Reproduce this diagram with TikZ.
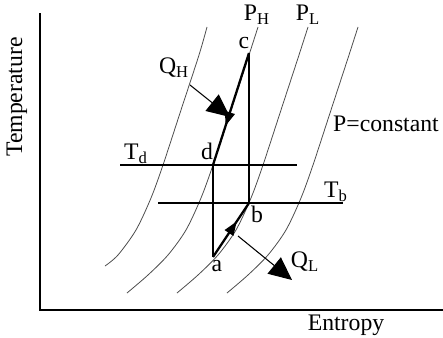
\documentclass[tikz,border=0pt]{standalone}
\usepackage{fontspec}
\setmainfont{Liberation Serif}
\usetikzlibrary{arrows.meta, positioning, decorations.markings}

\begin{document}
\begin{tikzpicture}[
        x=0.02cm, y=-0.02cm,
        font=\fontsize{13.5}{16}\selectfont,
        axis/.style={line width=0.8pt},
        isobar/.style={line width=0.45pt, black!70},
        process/.style={line width=1.3pt},
        vline/.style={line width=0.8pt},
        tline/.style={line width=0.9pt},
        midarrow/.style={postaction={decorate}, decoration={markings, mark=at position #1 with {\arrow{Triangle[length=2.8mm, width=2mm]}}}},
        heat/.style={line width=0.6pt, -{Triangle[length=4.6mm, width=4.2mm]}},
        label/.style={inner sep=1pt}
    ]
    \useasboundingbox (0,0) rectangle (443,338);

    % axes
    \coordinate (ytop) at (40,13);
    \coordinate (xend) at (443,310);
    \draw[axis] (ytop) |- (xend);
    \node[rotate=90] (ylab) at (17,97) {Temperature};
    \node (xlab) at (346,325) {Entropy};

    % lines of constant pressure
    \draw[isobar, shift={(-50,0)}] plot[smooth] coordinates {(257,27) (249,55) (231,110) (213,165) (201,198) (186,230) (168,255) (155,266)};
    \foreach \s in {0,50,100}
        \draw[isobar, shift={(\s,0)}] plot[smooth] coordinates {(258,27) (249,55) (231,110) (213,165) (201,198) (186,230) (168,255) (148,275) (127,293)};

    % cycle
    \coordinate (c) at (249,53);
    \coordinate (d) at (213,165);
    \coordinate (a) at (213,257);
    \coordinate (b) at (249,203);
    \draw[process, midarrow=0.65] (c) -- (d);
    \draw[vline] (d) -- (a);
    \draw[process, midarrow=0.66] (a) -- (b);
    \draw[vline] (b) -- (c);

    % temperature levels
    \coordinate (td1) at (120,165);
    \coordinate (td2) at (297,165);
    \coordinate (tb1) at (158,203);
    \coordinate (tb2) at (343,203);
    \draw[tline] (td1) -- (td2);
    \draw[tline] (tb1) -- (tb2);

    % heat flows
    \coordinate (qhs) at (190,85);
    \coordinate (qht) at (230,117);
    \coordinate (qls) at (238,236);
    \coordinate (qlt) at (292,280);
    \draw[heat] (qhs) -- (qht);
    \draw[heat] (qls) -- (qlt);

    % labels
    \node[label] (lc) at (244,43) {c};
    \node[label] (ld) at (207,151) {d};
    \node[label] (lb) at (257,214) {b};
    \node[label] (la) at (217,266) {a};
    \node[label] (ph) at (257,15) {P\textsubscript{H}};
    \node[label] (pl) at (308,15) {P\textsubscript{L}};
    \node[label] (pc) at (386,124) {P=constant};
    \node[label] (qh) at (174,68) {Q\textsubscript{H}};
    \node[label] (ql) at (305,262) {Q\textsubscript{L}};
    \node[label] (tdl) at (136,154) {T\textsubscript{d}};
    \node[label] (tbl) at (336,192) {T\textsubscript{b}};

\end{tikzpicture}
\end{document}
